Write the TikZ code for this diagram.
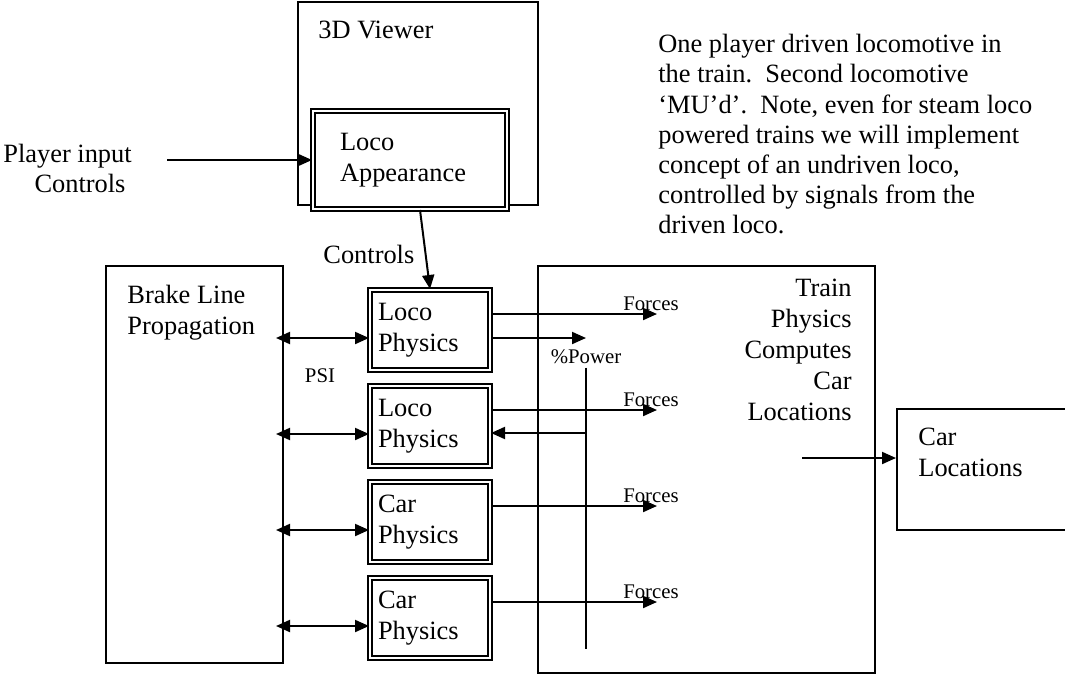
\documentclass[tikz,border=0pt]{standalone}
\usepackage{fontspec}
\setmainfont{Liberation Serif}
\usetikzlibrary{arrows.meta}
\newcommand{\mainsz}{\fontsize{13.2}{15.5}\selectfont}
\newcommand{\smallsz}{\fontsize{10.4}{12}\selectfont}
\tikzset{
  lbl/.style={font=\mainsz, inner sep=0pt},
  smalllbl/.style={font=\smallsz, inner sep=0pt},
  plainbox/.style={draw, line width=1pt, rectangle},
  dblbox/.style={draw, line width=1pt, double=white, double distance=1pt,
    fill=white, rectangle, font=\mainsz, align=left,
    text width=52pt, inner xsep=4pt, minimum height=40pt},
  arr/.style={line width=1pt, -{Triangle[length=7pt,width=6pt]}},
  darr/.style={line width=1pt, shorten <=-4pt,
    {Triangle[length=7pt,width=6pt]}-{Triangle[length=7pt,width=6pt]}},
}
\begin{document}
\begin{tikzpicture}[x=0.5pt, y=-0.5pt]
  \useasboundingbox (0,0) rectangle (1065,675);

  % viewer
  \node[plainbox, minimum width=120pt, minimum height=101.5pt] (viewer) at (418,103.5) {};
  \node[lbl, anchor=base west] (viewertxt) at (318,38) {3D Viewer};
  \node[dblbox, text width=70pt, inner xsep=13.5pt, minimum height=49pt] (appear) at (410,160) {Loco\\Appearance};

  % player input
  \node[lbl, anchor=base west] (player) at (3,162) {Player input};
  \node[lbl, anchor=base] (playerctl) at (80,192) {Controls};
  \coordinate (pinsrc) at (167,160);
  \draw[arr] (pinsrc) -- (appear.west);

  % note
  \node[lbl, anchor=north west, align=left, font=\fontsize{13.2}{15.1}\selectfont] (note) at (658,34)
    {One player driven locomotive in\\the train.\ \ Second locomotive\\‘MU’d’.\ \ Note, even for steam loco\\powered trains we will implement\\concept of an undriven loco,\\controlled by signals from the\\driven loco.};

  % big boxes
  \node[plainbox, minimum width=88.5pt, minimum height=198.5pt] (brake) at (194.5,464.5) {};
  \node[lbl, anchor=north west, align=left] (braketxt) at (127,285) {Brake Line\\Propagation};
  \node[plainbox, minimum width=168.5pt, minimum height=203.5pt] (train) at (706.5,469.5) {};
  \node[lbl, anchor=north east, align=right] (traintxt) at (852,279) {Train\\Physics\\Computes\\Car\\Locations};
  \node[plainbox, minimum width=85.5pt, minimum height=60.5pt] (carloc) at (982.5,469.5) {};
  \node[lbl, anchor=north west, align=left] (carloctxt) at (918,428) {Car\\Locations};

  % physics boxes
  \node[dblbox] (loco1) at (430,330) {Loco\\Physics};
  \node[dblbox] (loco2) at (430,426) {Loco\\Physics};
  \node[dblbox] (car1) at (430,522) {Car\\Physics};
  \node[dblbox] (car2) at (430,618) {Car\\Physics};

  \node[lbl, anchor=base west] (ctrl) at (323,263) {Controls};
  \draw[arr] ([xshift=5pt]appear.south) -- (loco1.north);

  \node[smalllbl, anchor=base] (psi) at (320,382) {PSI};

  % forces and brake line
  \coordinate (fend) at (657,0);
  \foreach \b in {loco1,loco2,car1,car2} {
    \draw[arr] ([yshift=8pt]\b.east) -- ([yshift=8pt]\b.east -| fend)
      node[smalllbl, anchor=base, xshift=-3pt, yshift=2pt] {Forces};
    \draw[darr] ([yshift=-4pt]\b.west -| brake.east) -- ([yshift=-4pt]\b.west);
  }

  % power bus
  \node[smalllbl, anchor=base] (power) at (586,363) {\%Power};
  \coordinate (busend) at (587,649);
  \draw[arr] ([yshift=-4pt]loco1.east) -- ([yshift=-4pt]loco1.east -| power);
  \draw[line width=1pt] ([yshift=-2pt]power.south) -- (power.south |- busend);
  \draw[arr] ([yshift=-3.5pt]loco2.east -| power) -- ([yshift=-3.5pt]loco2.east);

  % car locations
  \coordinate (locsrc) at (802,458);
  \draw[arr] (locsrc) -- (locsrc -| carloc.west);
\end{tikzpicture}
\end{document}
